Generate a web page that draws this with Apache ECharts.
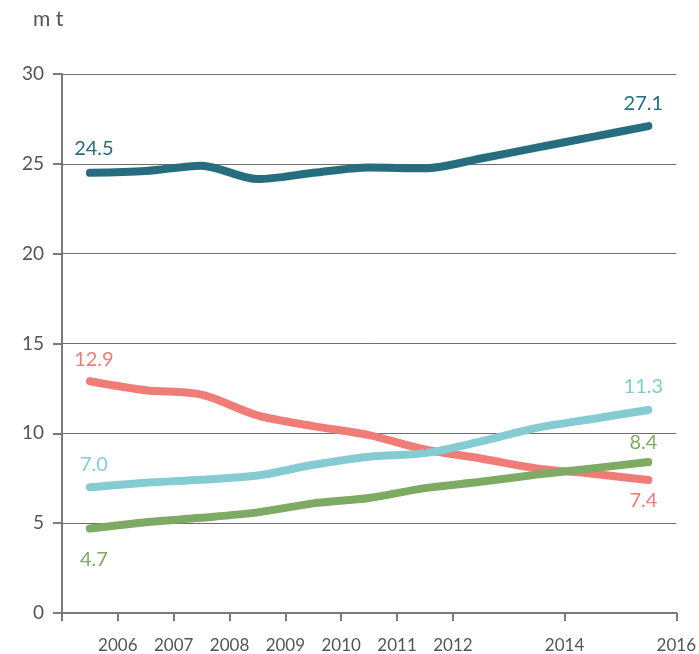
<!DOCTYPE html>
<html>
<head>
<meta charset="utf-8">
<script src="https://cdn.jsdelivr.net/npm/echarts@6/dist/echarts.min.js"></script>
<style>
  html, body { margin: 0; padding: 0; background: #fff; }
  #chart { width: 699px; height: 654px; }
</style>
</head>
<body>
<div id="chart"></div>
<script>
// mid-year positions of the values
var years = [2005.5, 2006.5, 2007.5, 2008.5, 2009.5, 2010.5, 2011.5, 2012.5, 2013.5, 2014.5, 2015.5];
var darkVals = [24.5, 24.6, 24.9, 24.15, 24.5, 24.8, 24.75, 25.3, 25.9, 26.5, 27.1];
var redVals = [12.9, 12.4, 12.15, 11.0, 10.4, 9.9, 9.1, 8.6, 8.05, 7.75, 7.4];
var cyanVals = [7.0, 7.25, 7.42, 7.65, 8.25, 8.7, 8.9, 9.55, 10.3, 10.8, 11.3];
var greenVals = [4.7, 5.05, 5.3, 5.6, 6.1, 6.4, 6.95, 7.3, 7.7, 8.05, 8.4];
var yearLabels = [2006, 2007, 2008, 2009, 2010, 2011, 2012, 2014, 2016];
var yearTicks = [2005, 2006, 2007, 2008, 2009, 2010, 2011, 2012, 2014, 2016];

var font = 'Lato';

// first / last value labels: [position, distance]
function buildData(vals, color, startPos, endPos) {
	var out = [];
	for (let i = 0; i < vals.length; i++) {
		var item = { value: [years[i], vals[i]] };
		if (i == 0 || i == vals.length - 1) {
			var p = i == 0 ? startPos : endPos;
			item.label = {
				show: true,
				position: p[0],
				distance: p[1],
				offset: [i == 0 ? 4 : -5, 0],
				formatter: function (pr) { return pr.value[1].toFixed(1); },
				color: color,
				fontSize: 20,
				fontFamily: font
			};
		}
		out.push(item);
	}
	return out;
}

function line(name, vals, color, startPos, endPos) {
	return {
		name: name,
		type: 'line',
		smooth: 0.3,
		showSymbol: true,
		symbol: 'circle',
		symbolSize: 2,
		lineStyle: { width: 8, color: color, cap: 'round', join: 'round' },
		itemStyle: { color: color },
		data: buildData(vals, color, startPos, endPos)
	};
}

var myChart = echarts.init(document.getElementById('chart'));
var option = {
	backgroundColor: '#fff',
	animation: false,
	grid: { left: 62, right: 20, top: 74, bottom: 38 },
	graphic: [{
		type: 'text',
		left: 33,
		top: 9,
		style: { text: 'm t', fontSize: 21, fontFamily: font, fill: '#555' }
	}],
	xAxis: {
		type: 'value',
		min: 2005,
		max: 2016,
		interval: 1,
		splitLine: { show: false },
		axisLine: { lineStyle: { color: '#7a7a7a', width: 2 } },
		axisTick: { show: true, length: 8, customValues: yearTicks, lineStyle: { color: '#7a7a7a', width: 2 } },
		axisLabel: {
			customValues: yearLabels,
			margin: 24,
			fontSize: 17,
			fontFamily: font,
			color: '#555',
			formatter: function (v) { return String(v); }
		}
	},
	yAxis: {
		type: 'value',
		min: 0,
		max: 30,
		interval: 5,
		axisLine: { show: true, lineStyle: { color: '#7a7a7a', width: 2 } },
		axisTick: { show: true, length: 9, lineStyle: { color: '#7a7a7a', width: 2 } },
		axisLabel: { margin: 18, fontSize: 19, fontFamily: font, color: '#555' },
		splitLine: { lineStyle: { color: '#6e6e6e', width: 1 } }
	},
	series: [
		line('dark', darkVals, '#276d80', ['top', 13], ['top', 12]),
		line('red', redVals, '#f07c78', ['top', 11], ['bottom', 10]),
		line('cyan', cyanVals, '#85cbd2', ['top', 12], ['top', 12]),
		line('green', greenVals, '#7eab63', ['bottom', 20], ['top', 9])
	]
};
myChart.setOption(option);
</script>
</body>
</html>
